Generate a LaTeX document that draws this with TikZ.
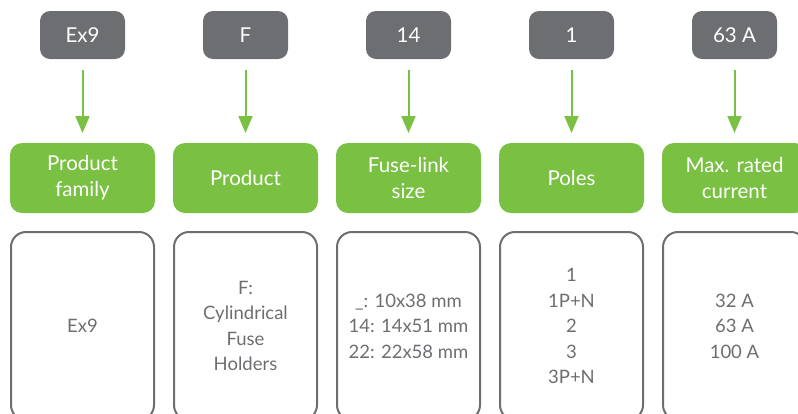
\documentclass[tikz,border=0pt]{standalone}
\usepackage{fontspec}
\setmainfont{Lato}
\usetikzlibrary{positioning,arrows.meta}
\definecolor{codegray}{HTML}{6D6E71}
\definecolor{fieldgreen}{HTML}{7AC143}

\begin{document}
\begin{tikzpicture}[x=1pt,y=-1pt,
    code/.style={rectangle, rounded corners=10pt, fill=codegray, text=white, minimum width=85pt, minimum height=48pt, outer sep=0pt, font=\fontsize{20.5}{24}\selectfont},
    field/.style={rectangle, rounded corners=12pt, fill=fieldgreen, text=white, minimum width=145pt, minimum height=70pt, outer sep=0pt, align=center, font=\fontsize{20.5}{26}\selectfont},
    detail/.style={rectangle, rounded corners=15pt, draw=codegray, line width=2pt, minimum width=143pt, minimum height=188pt, align=center, text=codegray, font=\fontsize{18.5}{25.5}\selectfont},
    pick/.style={draw=fieldgreen, line width=2pt, -{Triangle[width=14pt,length=17pt]}, shorten <=11pt, shorten >=10pt}]
  \clip (0,0) rectangle (798,413);
  % green field names
  \node (f1) [field] at (82.5,178) {Product\\family};
  \node (f2) [field, right=18pt of f1] {Product};
  \node (f3) [field, right=18pt of f2] {Fuse-link\\size};
  \node (f4) [field, right=18pt of f3] {Poles};
  \node (f5) [field, right=18pt of f4] {Max. rated\\current};
  % code parts on top
  \node (c1) [code] at (f1 |- 0,35) {Ex9};
  \node (c2) [code] at (f2 |- c1) {F};
  \node (c3) [code] at (f3 |- c1) {14};
  \node (c4) [code] at (f4 |- c1) {1};
  \node (c5) [code] at (f5 |- c1) {63 A};
  % possible values
  \node (d1) [detail] at (f1 |- 0,326) {Ex9};
  \node (d2) [detail] at (f2 |- d1) {F:\\Cylindrical\\Fuse\\Holders};
  \node (d3) [detail] at (f3 |- d1) {\_: 10x38 mm\\14: 14x51 mm\\22: 22x58 mm};
  \node (d4) [detail] at (f4 |- d1) {1\\1P+N\\2\\3\\3P+N};
  \node (d5) [detail] at (f5 |- d1) {32 A\\63 A\\100 A};
  \draw[pick] (c1) -- (f1);
  \draw[pick] (c2) -- (f2);
  \draw[pick] (c3) -- (f3);
  \draw[pick] (c4) -- (f4);
  \draw[pick] (c5) -- (f5);
\end{tikzpicture}
\end{document}
